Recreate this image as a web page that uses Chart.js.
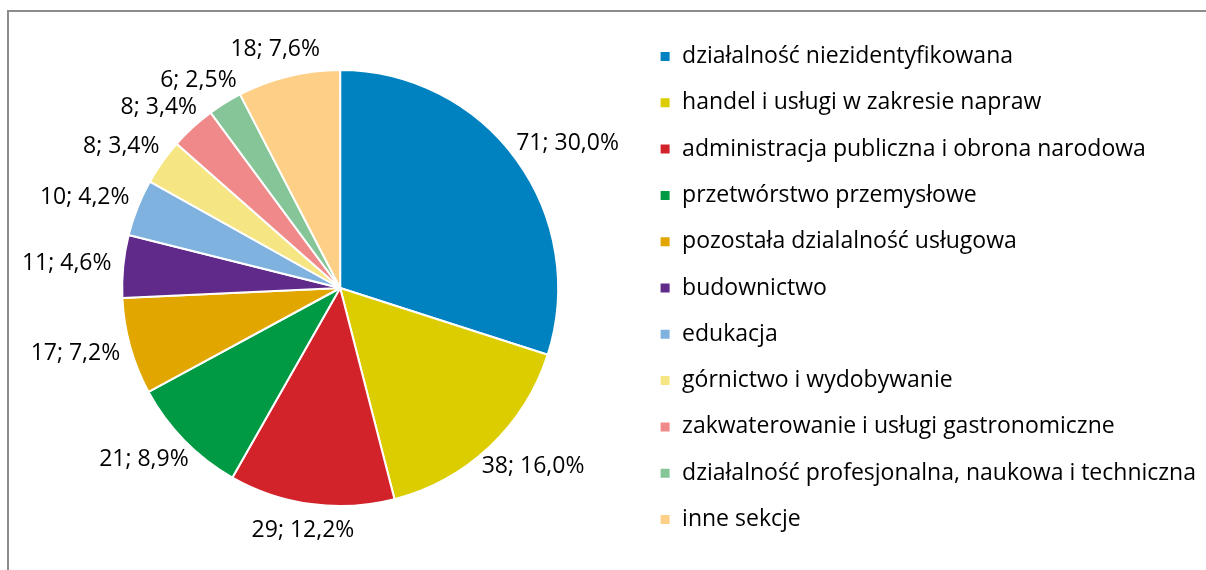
<!DOCTYPE html>
<html>
<head>
<meta charset="utf-8">
<script src="https://cdn.jsdelivr.net/npm/chart.js@4/dist/chart.umd.min.js"></script>
<style>
  html, body { margin: 0; padding: 0; background: #ffffff; overflow: hidden; }
  #frame { position: absolute; left: 7px; top: 10px; width: 1300px; height: 700px; border: 2px solid #8c8c8c; box-sizing: border-box; }
  #wrap { position: absolute; left: 0; top: 0; width: 1206px; height: 570px; }
</style>
</head>
<body>
<div id="frame"></div>
<div id="wrap"><canvas id="c" width="1206" height="570"></canvas></div>
<script>
const categories = [
  "działalność niezidentyfikowana",
  "handel i usługi w zakresie napraw",
  "administracja publiczna i obrona narodowa",
  "przetwórstwo przemysłowe",
  "pozostała dzialalność usługowa",
  "budownictwo",
  "edukacja",
  "górnictwo i wydobywanie",
  "zakwaterowanie i usługi gastronomiczne",
  "działalność profesjonalna, naukowa i techniczna",
  "inne sekcje"
];
const values = [71, 38, 29, 21, 17, 11, 10, 8, 8, 6, 18];
const colors = [
  "#0081c0", "#dccd00", "#d2232a", "#009a44", "#e2a600", "#5f2a8a",
  "#7fb2de", "#f6e683", "#f08a8a", "#86c597", "#fdcf87"
];

const FONT = "'Open Sans', sans-serif";
const FSIZE = 23;
const total = values.reduce((a, b) => a + b, 0);
const labelText = values.map(v => v + "; " + (v / total * 100).toFixed(1).replace(".", ",") + "%");

const outsideLabels = {
  id: "outsideLabels",
  afterDatasetsDraw(chart) {
    const ctx = chart.ctx;
    const meta = chart.getDatasetMeta(0);
    ctx.save();
    ctx.font = FSIZE + "px " + FONT;
    ctx.fillStyle = "#000000";
    ctx.textAlign = "center";
    ctx.textBaseline = "middle";
    meta.data.forEach((arc, i) => {
      const mid = (arc.startAngle + arc.endAngle) / 2;
      const R = arc.outerRadius + 12;
      const cx = arc.x + Math.cos(mid) * R;
      const cy = arc.y + Math.sin(mid) * R;
      const w = ctx.measureText(labelText[i]).width;
      const h = 30;
      const tx = cx + Math.cos(mid) * w / 2;
      const ty = cy + Math.sin(mid) * h / 2;
      ctx.fillText(labelText[i], tx, ty);
    });
    ctx.restore();
  }
};

new Chart(document.getElementById("c"), {
  type: "pie",
  data: {
    labels: categories,
    datasets: [{
      data: values,
      backgroundColor: colors,
      borderColor: "#ffffff",
      borderWidth: 2,
      radius: 218
    }]
  },
  options: {
    responsive: false,
    animation: false,
    layout: { padding: { top: 6, bottom: 0, left: 44, right: 0 } },
    plugins: {
      tooltip: { enabled: false },
      legend: {
        position: "right",
        align: "center",
        labels: {
          boxWidth: 11,
          boxHeight: 11,
          padding: 23.3,
          color: "#000000",
          font: { family: FONT, size: FSIZE }
        }
      }
    }
  },
  plugins: [outsideLabels]
});
</script>
</body>
</html>
